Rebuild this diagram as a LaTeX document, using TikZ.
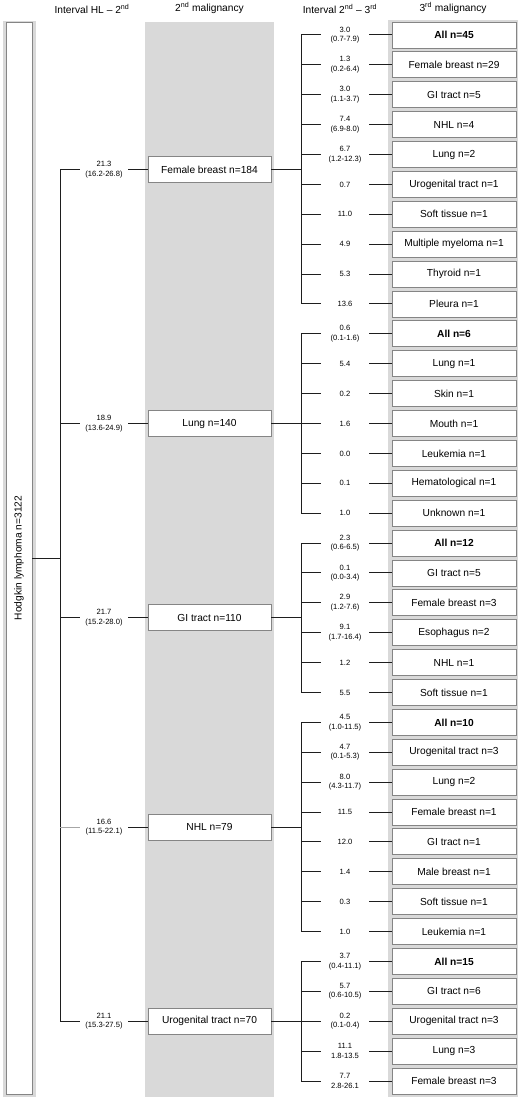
\documentclass[tikz,border=0pt]{standalone}
\usepackage{fontspec}
\setmainfont{Liberation Sans}
\definecolor{colgray}{HTML}{D9D9D9}
\definecolor{boxline}{HTML}{858585}
\definecolor{treeline}{HTML}{1E1E1E}
\newcommand\thirdrow[4]{%
  \node[third] (#2) at (454,{35+29.886*#1}) {#3};
  \node[ilab] (#2l) at (345,{35+29.886*#1}) {#4};
  \coordinate (#2t) at (301,{35+29.886*#1});
  \draw[conn] (#2t) -- (#2l.west);
  \draw[conn] (#2l.east) -- (#2.west);
}
\newcommand\secondrow[4]{%
  \node[second] (#1) at (209.5,#2) {#3};
  \node[ilab] (#1l) at (104,#2) {#4};
  \coordinate (#1t) at (60,#2);
  \coordinate (#1j) at (301,#2);
  \draw[conn] (#1l.east) -- (#1.west);
  \draw[conn] (#1.east) -- (#1j);
}
\begin{document}
\begin{tikzpicture}[x=1pt,y=-1pt,
  box/.style={draw=boxline, line width=0.9pt, fill=white, minimum height=26pt, inner sep=0pt, font=\fontsize{10.2}{12}\selectfont},
  third/.style={box, minimum width=124pt},
  second/.style={box, minimum width=123pt},
  ilab/.style={minimum width=48pt, inner sep=0pt, align=center, font=\fontsize{7.6}{9.6}\selectfont},
  conn/.style={draw=treeline, line width=1pt},
  head/.style={font=\fontsize{10.2}{12}\selectfont}]
\useasboundingbox (0,0) rectangle (520,1099);
% column backgrounds
\fill[colgray] (3,21) rectangle (36,1097);
\fill[colgray] (145,22) rectangle (274,1097);
\fill[colgray] (388,20) rectangle (518,1097);
% headers
\node[head] (h1) at (92,9) {Interval HL – 2\textsuperscript{nd}};
\node[head] (h2) at (209.5,8) {2\textsuperscript{nd} malignancy};
\node[head] (h3) at (340,9) {Interval 2\textsuperscript{nd} – 3\textsuperscript{rd}};
\node[head] (h4) at (453,8) {3\textsuperscript{rd} malignancy};
% Hodgkin box
\node[box, minimum width=26pt, minimum height=1072pt] (hl) at (19,558) {\rotatebox{90}{Hodgkin lymphoma n=3122}};
\coordinate (trunk) at (60,558);
\draw[conn] (hl.east) -- (trunk);
% second malignancies
\secondrow{g1}{169.5}{Female breast n=184}{21.3\\(16.2-26.8)}
\secondrow{g2}{423.5}{Lung n=140}{18.9\\(13.6-24.9)}
\secondrow{g3}{617.8}{GI tract n=110}{21.7\\(15.2-28.0)}
\secondrow{g4}{827}{NHL n=79}{16.6\\(11.5-22.1)}
\secondrow{g5}{1021.2}{Urogenital tract n=70}{21.1\\(15.3-27.5)}
\draw[conn] (g1t) -- (g5t);
\draw[conn] (g1t) -- (g1l.west);
\draw[conn] (g2t) -- (g2l.west);
\draw[conn] (g3t) -- (g3l.west);
\draw[conn, draw=gray!70, line width=0.6pt] (g4t) -- (g4l.west);
\draw[conn] (g5t) -- (g5l.west);
% group 1
\thirdrow{0}{a0}{\textbf{All n=45}}{3.0\\(0.7-7.9)}
\thirdrow{1}{a1}{Female breast n=29}{1.3\\(0.2-6.4)}
\thirdrow{2}{a2}{GI tract n=5}{3.0\\(1.1-3.7)}
\thirdrow{3}{a3}{NHL n=4}{7.4\\(6.9-8.0)}
\thirdrow{4}{a4}{Lung n=2}{6.7\\(1.2-12.3)}
\thirdrow{5}{a5}{Urogenital tract n=1}{0.7}
\thirdrow{6}{a6}{Soft tissue n=1}{11.0}
\thirdrow{7}{a7}{Multiple myeloma n=1}{4.9}
\thirdrow{8}{a8}{Thyroid n=1}{5.3}
\thirdrow{9}{a9}{Pleura n=1}{13.6}
\draw[conn] (a0t) -- (a9t);
% group 2
\thirdrow{10}{b0}{\textbf{All n=6}}{0.6\\(0.1-1.6)}
\thirdrow{11}{b1}{Lung n=1}{5.4}
\thirdrow{12}{b2}{Skin n=1}{0.2}
\thirdrow{13}{b3}{Mouth n=1}{1.6}
\thirdrow{14}{b4}{Leukemia n=1}{0.0}
\thirdrow{15}{b5}{Hematological n=1}{0.1}
\thirdrow{16}{b6}{Unknown n=1}{1.0}
\draw[conn] (b0t) -- (b6t);
% group 3
\thirdrow{17}{c0}{\textbf{All n=12}}{2.3\\(0.6-6.5)}
\thirdrow{18}{c1}{GI tract n=5}{0.1\\(0.0-3.4)}
\thirdrow{19}{c2}{Female breast n=3}{2.9\\(1.2-7.6)}
\thirdrow{20}{c3}{Esophagus n=2}{9.1\\(1.7-16.4)}
\thirdrow{21}{c4}{NHL n=1}{1.2}
\thirdrow{22}{c5}{Soft tissue n=1}{5.5}
\draw[conn] (c0t) -- (c5t);
% group 4
\thirdrow{23}{d0}{\textbf{All n=10}}{4.5\\(1.0-11.5)}
\thirdrow{24}{d1}{Urogenital tract n=3}{4.7\\(0.1-5.3)}
\thirdrow{25}{d2}{Lung n=2}{8.0\\(4.3-11.7)}
\thirdrow{26}{d3}{Female breast n=1}{11.5}
\thirdrow{27}{d4}{GI tract n=1}{12.0}
\thirdrow{28}{d5}{Male breast n=1}{1.4}
\thirdrow{29}{d6}{Soft tissue n=1}{0.3}
\thirdrow{30}{d7}{Leukemia n=1}{1.0}
\draw[conn] (d0t) -- (d7t);
% group 5
\thirdrow{31}{e0}{\textbf{All n=15}}{3.7\\(0.4-11.1)}
\thirdrow{32}{e1}{GI tract n=6}{5.7\\(0.6-10.5)}
\thirdrow{33}{e2}{Urogenital tract n=3}{0.2\\(0.1-0.4)}
\thirdrow{34}{e3}{Lung n=3}{11.1\\1.8-13.5}
\thirdrow{35}{e4}{Female breast n=3}{7.7\\2.8-26.1}
\draw[conn] (e0t) -- (e4t);
\end{tikzpicture}
\end{document}
